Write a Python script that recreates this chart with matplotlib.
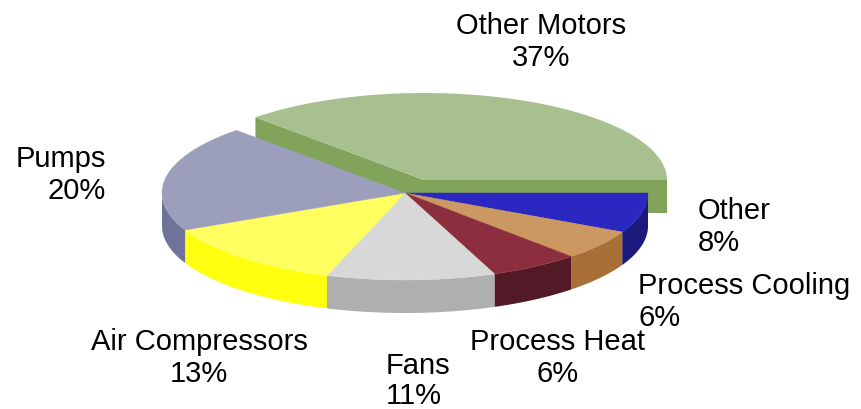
import matplotlib
matplotlib.use('Agg')
import matplotlib.pyplot as plt
import numpy as np
from matplotlib.patches import Polygon

plt.rcParams['font.family'] = ['Liberation Sans', 'DejaVu Sans']

# shares going clockwise from 3 o'clock
names = ['Other', 'Process Cooling', 'Process Heat', 'Fans', 'Air Compressors', 'Pumps', 'Other Motors']
shares = [7.4, 5.6, 6.0, 11.2, 12.8, 19.8, 37.2]
percents = ['8%', '6%', '6%', '11%', '13%', '20%', '37%']
top_colors = ['#2A28C0', '#CB9862', '#8C2E3E', '#D8D8D8', '#FFFF60', '#9C9FBB', '#A8C090']
side_colors = ['#1A1A7C', '#A87038', '#521A26', '#AFAFAF', '#FFFF0F', '#70749B', '#81A35A']

cx, cy = 405, 194
rx, ry = 243, 87
depth = 33
explode = (19, -13)

fig = plt.figure(figsize=(8.61, 4.10), dpi=100)
ax = fig.add_axes([0, 0, 1, 1])
ax.set_xlim(0, 861)
ax.set_ylim(410, 0)
ax.axis('off')

ends = -np.cumsum(shares) * 3.6
starts = np.concatenate([[0], ends[:-1]])


def rim(a0, a1, x0, y0):
    t = np.radians(np.linspace(a0, a1, 120))
    return np.column_stack([x0 + rx * np.cos(t), y0 - ry * np.sin(t)])


# exploded slice first, the rest of the pie sits in front of it
i = names.index('Other Motors')
mx, my = cx + explode[0], cy + explode[1]
edge = rim(starts[i], ends[i], mx, my)
ax.add_patch(Polygon([(mx, my), edge[0], edge[0] + (0, depth), (mx, my + depth)], fc=side_colors[i], ec='none', zorder=1))
ax.add_patch(Polygon([(mx, my), edge[-1], edge[-1] + (0, depth), (mx, my + depth)], fc=side_colors[i], ec='none', zorder=1))
ax.add_patch(Polygon(np.vstack([[(mx, my)], edge]), fc=top_colors[i], ec='none', zorder=2))

for j in range(len(shares)):
    if j == i:
        continue
    edge = rim(starts[j], ends[j], cx, cy)
    # wall only where the rim faces the viewer
    lo, hi = max(ends[j], -180), min(starts[j], 0)
    if hi > lo:
        front = rim(hi, lo, cx, cy)
        wall = np.vstack([front, (front + (0, depth))[::-1]])
        ax.add_patch(Polygon(wall, fc=side_colors[j], ec='none', zorder=3))
    ax.add_patch(Polygon(np.vstack([[(cx, cy)], edge]), fc=top_colors[j], ec=top_colors[j], lw=0.3, zorder=4))

# label anchors
label_x = [698, 638, 558, 386, 199, 106, 541]
label_y = [227, 302, 358, 381, 358, 175, 42]
aligns = ['left', 'left', 'center', 'left', 'center', 'right', 'center']
spacing = [1.22, 1.22, 1.22, 1.05, 1.22, 1.22, 1.22]
for n, p, x, y, al, ls in zip(names, percents, label_x, label_y, aligns, spacing):
    ax.text(x, y, n + '\n' + p, ha=al, va='center', fontsize=21, color='black', linespacing=ls, multialignment=al)

fig.savefig('out.png', dpi=100)
